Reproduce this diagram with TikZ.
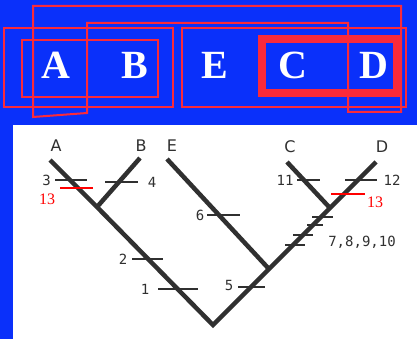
\documentclass[tikz,border=0pt]{standalone}
\usepackage{fontspec}
\setmainfont{Liberation Serif}
\setsansfont{DejaVu Sans}
\setmonofont{DejaVu Sans Mono}
\usetikzlibrary{positioning}
\definecolor{bgblue}{RGB}{10,48,250}
\definecolor{markred}{RGB}{250,42,58}
\definecolor{ink}{RGB}{48,48,48}

\begin{document}
\begin{tikzpicture}[
        x=1pt, y=-1pt,
        letter/.style={text=white, inner sep=0pt, font=\fontsize{40}{40}\selectfont\bfseries},
        frame/.style={draw=markred, line width=2pt},
        thickframe/.style={draw=markred, line width=8pt},
        branch/.style={draw=ink, line width=4.5pt, line join=miter},
        tick/.style={draw=ink, line width=2pt},
        redtick/.style={draw=red, line width=2.2pt},
        taxon/.style={text=ink, inner sep=0pt, font=\sffamily\fontsize{16}{16}\selectfont},
        num/.style={text=ink, inner sep=0pt, font=\ttfamily\fontsize{14}{14}\selectfont},
        rednum/.style={text=red, inner sep=0pt, font=\fontsize{16}{16}\selectfont}
    ]

    % Background
    \fill[bgblue] (0,0) rectangle (417,339);
    \fill[white] (13,125) rectangle (417,339);
    \useasboundingbox (0,0) rectangle (417,339);

    % Letters
    \node (bigA) [letter] at (56,65) {A};
    \node (bigB) [letter] at (135,65) {B};
    \node (bigE) [letter] at (215,65) {E};
    \node (bigC) [letter] at (293,65) {C};
    \node (bigD) [letter] at (374,65) {D};

    % Frames
    \draw[frame] (33,6) -- (401,6) -- (401,112) -- (348,112) -- (348,23) -- (87,23) -- (87,113) -- (33,117) -- cycle;
    \draw[frame] (4,28) rectangle (173,107);
    \draw[frame] (22,40) rectangle (158,97);
    \draw[frame] (182,28) rectangle (406,107);
    \draw[thickframe] (262,39) rectangle (397,93);

    % Tree
    \coordinate (tipA) at (50,160);
    \coordinate (tipB) at (140,158);
    \coordinate (tipE) at (167,159);
    \coordinate (tipC) at (287,162);
    \coordinate (tipD) at (376,162);
    \coordinate (root) at (213,325);
    \coordinate (jAB) at (97,207);
    \coordinate (jE) at (269,269);
    \coordinate (jCD) at (330,208);

    \node (labA) [taxon] at (56,146) {A};
    \node (labB) [taxon] at (141,146) {B};
    \node (labE) [taxon] at (172,146) {E};
    \node (labC) [taxon] at (290,147) {C};
    \node (labD) [taxon] at (382,147) {D};

    \draw [branch] (tipA) -- (jAB) -- (root) -- (jE) -- (jCD) -- (tipD);
    \draw [branch] (tipB) -- (jAB);
    \draw [branch] (tipE) -- (jE);
    \draw [branch] (tipC) -- (jCD);

    % Marks
    \draw [tick] (55,180) -- (87,180);
    \draw [redtick] (60,188) -- (93,188);
    \draw [tick] (105,182) -- (138,182);
    \draw [tick] (132,259) -- (163,259);
    \draw [tick] (158,289) -- (198,289);
    \draw [tick] (207,215) -- (240,215);
    \draw [tick] (238,287) -- (265,287);
    \draw [tick] (297,180) -- (320,180);
    \draw [tick] (345,180) -- (377,180);
    \draw [redtick] (331,194) -- (365,194);
    \draw [tick] (312,217) -- (333,217);
    \draw [tick] (307,225) -- (323,225);
    \draw [tick] (293,235) -- (313,235);
    \draw [tick] (285,245) -- (305,245);

    \node (n3) [num, anchor=east] at (51,180) {3};
    \node (n13a) [rednum] at (47,199) {13};
    \node (n4) [num] at (152,182) {4};
    \node (n2) [num] at (123,259) {2};
    \node (n1) [num] at (145,289) {1};
    \node (n6) [num] at (200,215) {6};
    \node (n5) [num] at (229,285) {5};
    \node (n11) [num] at (285,180) {11};
    \node (n12) [num] at (392,180) {12};
    \node (n13b) [rednum] at (375,202) {13};
    \node (n7) [num] at (362,242) {7,8,9,10};

\end{tikzpicture}
\end{document}
